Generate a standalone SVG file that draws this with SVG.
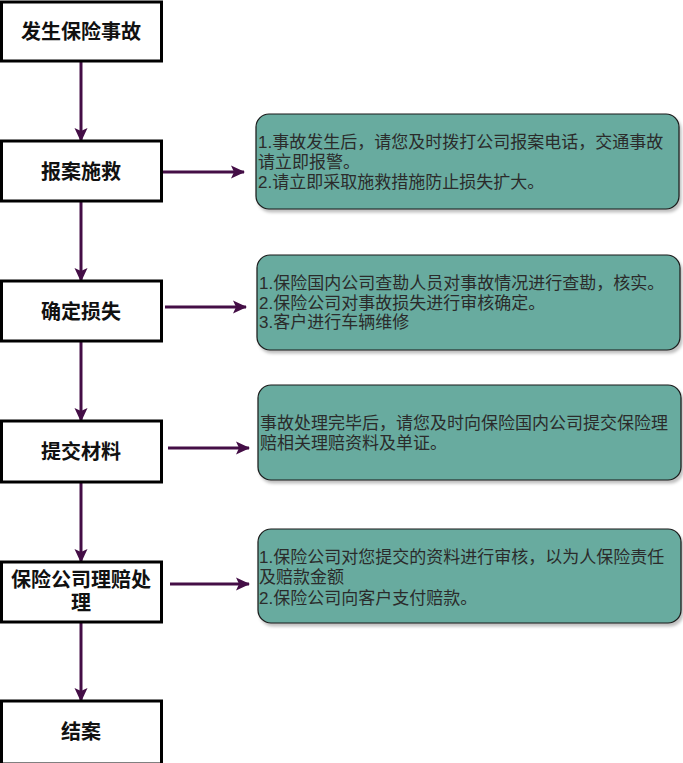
<svg xmlns="http://www.w3.org/2000/svg" width="683" height="763" viewBox="0 0 683 763">
<style>
.node rect{fill:#fff;stroke:#000;stroke-width:3}
.node text{font-family:"Liberation Sans","Noto Sans CJK SC",sans-serif;font-size:20px;font-weight:bold;fill:#111;text-anchor:middle}
.note rect{fill:#67AB9F;stroke:#1a1a1a;stroke-width:1.2;filter:url(#sh)}
.note text{font-family:"Liberation Sans","Noto Sans CJK SC",sans-serif;font-size:17px;fill:#2b2b2b}
.conn line{stroke:#440E46;stroke-width:3;fill:none;marker-end:url(#arr)}
</style>
<defs>
<marker id="arr" markerUnits="userSpaceOnUse" markerWidth="15" markerHeight="15" refX="13" refY="7.5" orient="auto">
<path d="M0,1 L14,7.5 L0,14 L3,7.5 z" fill="#440E46"/>
</marker>
<filter id="sh" x="-5%" y="-10%" width="115%" height="130%">
<feDropShadow dx="2" dy="3" stdDeviation="1.5" flood-color="#000" flood-opacity="0.25"/>
</filter>
</defs>
<rect width="683" height="763" fill="#fff"/>
<g id="connectors" class="conn">
<line x1="81" y1="61" x2="81" y2="141"/>
<line x1="81" y1="201" x2="81" y2="281"/>
<line x1="81" y1="341" x2="81" y2="421"/>
<line x1="81" y1="482" x2="81" y2="562"/>
<line x1="81" y1="622" x2="81" y2="701"/>
<line x1="163" y1="172" x2="244" y2="172"/>
<line x1="165" y1="307" x2="246" y2="307"/>
<line x1="168" y1="448" x2="249" y2="448"/>
<line x1="170" y1="584" x2="249" y2="584"/>
</g>
<g id="n1" class="node"><rect x="1.5" y="2" width="160" height="59"/><text x="81" y="39">发生保险事故</text></g>
<g id="n2" class="node"><rect x="1.5" y="141" width="160" height="60"/><text x="81" y="179">报案施救</text></g>
<g id="n3" class="node"><rect x="1.5" y="281" width="160" height="60"/><text x="81" y="319">确定损失</text></g>
<g id="n4" class="node"><rect x="1.5" y="421" width="160" height="61"/><text x="81" y="459">提交材料</text></g>
<g id="n5" class="node"><rect x="1.5" y="562" width="160" height="60"/><text x="81" y="587">保险公司理赔处</text><text x="81" y="610">理</text></g>
<g id="n6" class="node"><rect x="1.5" y="701" width="160" height="63"/><text x="81" y="739">结案</text></g>
<g id="c1" class="note"><rect x="256" y="114" width="423" height="95" rx="13"/>
<text x="258" y="148">1.事故发生后，请您及时拨打公司报案电话，交通事故</text>
<text x="258" y="168">请立即报警。</text>
<text x="258" y="188">2.请立即采取施救措施防止损失扩大。</text></g>
<g id="c2" class="note"><rect x="257" y="255" width="423" height="95" rx="13"/>
<text x="259" y="289">1.保险国内公司查勘人员对事故情况进行查勘，核实。</text>
<text x="259" y="309">2.保险公司对事故损失进行审核确定。</text>
<text x="259" y="328">3.客户进行车辆维修</text></g>
<g id="c3" class="note"><rect x="258" y="385" width="423" height="95" rx="13"/>
<text x="260" y="429">事故处理完毕后，请您及时向保险国内公司提交保险理</text>
<text x="260" y="449">赔相关理赔资料及单证。</text></g>
<g id="c4" class="note"><rect x="258" y="529" width="423" height="94" rx="13"/>
<text x="259" y="563">1.保险公司对您提交的资料进行审核，以为人保险责任</text>
<text x="259" y="583">及赔款金额</text>
<text x="259" y="604">2.保险公司向客户支付赔款。</text></g>
</svg>
